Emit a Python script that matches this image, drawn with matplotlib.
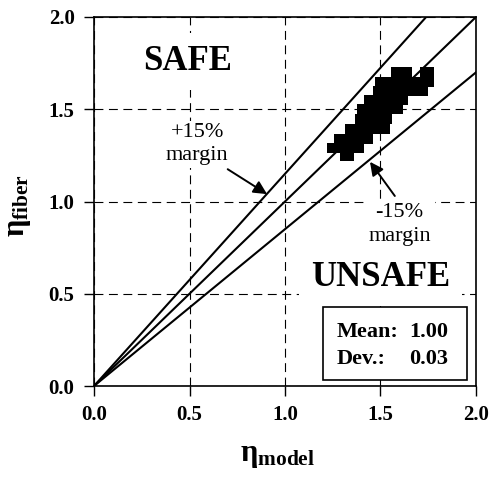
import matplotlib.pyplot as plt
import numpy as np

plt.rcParams['font.family'] = 'Liberation Serif'
plt.rcParams['mathtext.fontset'] = 'custom'
plt.rcParams['mathtext.rm'] = 'Liberation Serif'
plt.rcParams['mathtext.bf'] = 'Liberation Serif:bold'
plt.rcParams['mathtext.it'] = 'Liberation Serif:italic'

# measured points, row by row from the top of the cloud
eta_model = [1.59, 1.63, 1.745,
             1.51, 1.56, 1.62, 1.68, 1.745,
             1.495, 1.55, 1.60, 1.655, 1.71,
             1.45, 1.50, 1.555, 1.605,
             1.415, 1.47, 1.52, 1.58,
             1.405, 1.46, 1.525,
             1.35, 1.40, 1.46, 1.515,
             1.295, 1.36, 1.425,
             1.255, 1.315, 1.375,
             1.325]
eta_fiber = [1.70, 1.70, 1.70,
             1.65, 1.65, 1.65, 1.65, 1.65,
             1.60, 1.60, 1.60, 1.60, 1.60,
             1.55, 1.55, 1.55, 1.55,
             1.50, 1.50, 1.50, 1.50,
             1.445, 1.445, 1.445,
             1.395, 1.395, 1.395, 1.395,
             1.34, 1.34, 1.34,
             1.29, 1.29, 1.29,
             1.245]

slopes = [1.15, 1.0, 0.85]
ticks = [0.0, 0.5, 1.0, 1.5, 2.0]
stat_names = ['Mean:', 'Dev.:']
stat_values = ['1.00', '0.03']

fig = plt.figure(figsize=(4.93, 4.79), dpi=100)
ax = fig.add_axes([94 / 493, 93 / 479, 382 / 493, 369 / 479])

ax.set_xlim(0, 2)
ax.set_ylim(0, 2)
ax.set_xticks(ticks)
ax.set_yticks(ticks)
ax.set_xticklabels([f'{t:.1f}' for t in ticks], fontweight='bold')
ax.set_yticklabels([f'{t:.1f}' for t in ticks], fontweight='bold')
ax.tick_params(direction='out', length=7, width=1, labelsize=15, pad=7, colors='black')
ax.grid(True, color='black', linewidth=0.8, linestyle=(0, (8, 5)), zorder=0)
for s in ax.spines.values():
    s.set_linewidth(1.2)

# safety lines
xx = np.array([0.0, 2.0])
for k in slopes:
    ax.plot(xx, k * xx, color='black', lw=1.5, zorder=2)

rect = [(-1, -0.72), (1, -0.72), (1, 0.72), (-1, 0.72), (-1, -0.72)]
ax.plot(eta_model, eta_fiber, linestyle='none', marker=rect, markersize=9.6,
        color='black', markeredgewidth=0, zorder=3)

white = dict(facecolor='white', edgecolor='none', boxstyle='square,pad=0.35')
ax.text(0.49, 1.76, 'SAFE', fontsize=25, fontweight='bold', ha='center', va='center',
        bbox=white, zorder=4)
ax.text(1.50, 0.59, 'UNSAFE', fontsize=25, fontweight='bold', ha='center', va='center',
        bbox=white, zorder=4)

ax.text(0.54, 1.31, '+15%\nmargin', fontsize=16, ha='center', va='center',
        linespacing=1.3, zorder=4,
        bbox=dict(facecolor='white', edgecolor='none', boxstyle='square,pad=0.1'))
ax.text(1.60, 0.875, '-15%\nmargin', fontsize=16, ha='center', va='center',
        linespacing=1.3, zorder=4,
        bbox=dict(facecolor='white', edgecolor='none', boxstyle='square,pad=0.2'))

arrow = dict(arrowstyle='-|>', color='black', lw=1.4, mutation_scale=20,
             shrinkA=0, shrinkB=0)
ax.annotate('', xy=(0.906, 1.04), xytext=(0.70, 1.175), arrowprops=arrow, zorder=5)
ax.annotate('', xy=(1.445, 1.215), xytext=(1.575, 1.03), arrowprops=arrow, zorder=5)

# statistics box
box = plt.Rectangle((0.6, 0.016), 0.376, 0.198, transform=ax.transAxes,
                    facecolor='white', edgecolor='black', lw=1.2, zorder=5)
ax.add_patch(box)
for i, (n, v) in enumerate(zip(stat_names, stat_values)):
    yy = 0.133 - i * 0.074
    ax.text(0.634, yy, n, transform=ax.transAxes, fontsize=16, fontweight='bold',
            ha='left', va='baseline', zorder=6)
    ax.text(0.927, yy, v, transform=ax.transAxes, fontsize=16, fontweight='bold',
            ha='right', va='baseline', zorder=6)

ax.set_xlabel(r'$\mathbf{\eta}_{\mathbf{model}}$', fontsize=22)
ax.set_ylabel(r'$\mathbf{\eta}_{\mathbf{fiber}}$', fontsize=22)
ax.xaxis.set_label_coords(0.48, -0.15)
ax.yaxis.set_label_coords(-0.16, 0.49)

fig.savefig('out.png', dpi=100)
